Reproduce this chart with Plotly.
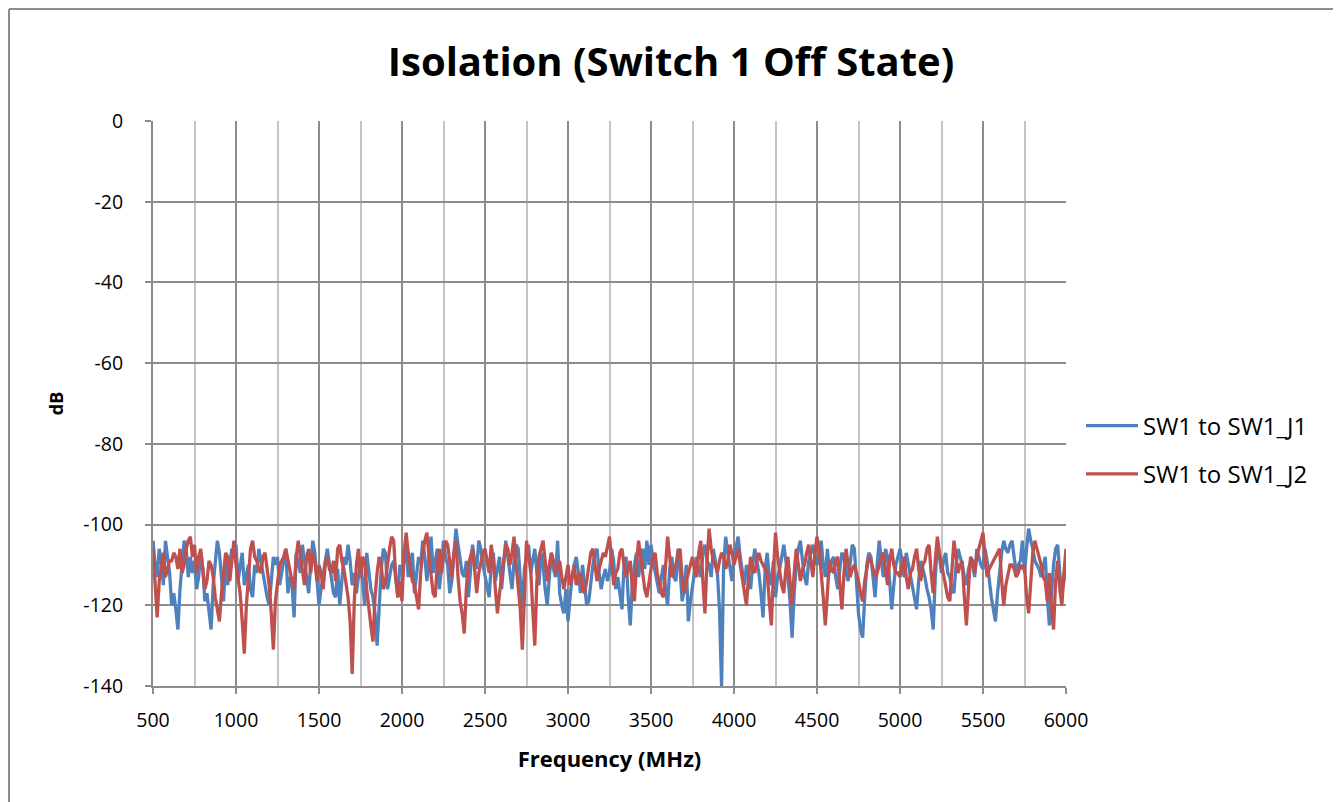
import plotly.graph_objects as go

# frequency grid: 500..6000 MHz every 12.5 MHz (441 points)
freq_mhz = [500 + 12.5 * k for k in range(441)]

# SW1 to SW1_J1 — values at the 25 MHz grid points (500, 525, ... 6000)
sw1_j1_grid = [
    -104, -113, -109, -104, -112, -117, -126, -111, -106, -108,
    -109, -113, -111, -117, -126, -110, -107, -119, -115, -106,
    -105, -111, -115, -110, -118, -112, -109, -116, -120, -108,
    -108, -112, -106, -113, -123, -110, -105, -114, -110, -107,
    -120, -112, -106, -113, -118, -120, -108, -105, -115, -117,
    -109, -120, -112, -118, -130, -111, -107, -113, -109, -118,
    -112, -106, -110, -117, -108, -104, -114, -103, -109, -116,
    -104, -110, -114, -101, -108, -113, -118, -105, -111, -106,
    -113, -118, -107, -111, -116, -104, -112, -109, -106, -121,
    -108, -112, -106, -115, -110, -120, -107, -113, -117, -122,
    -124, -113, -108, -117, -115, -119, -110, -106, -116, -111,
    -112, -109, -113, -121, -108, -125, -110, -113, -106, -104,
    -105, -112, -117, -110, -120, -108, -114, -111, -116, -124,
    -115, -108, -113, -105, -110, -106, -112, -140, -103, -110,
    -108, -103, -112, -110, -116, -106, -112, -123, -107, -115,
    -118, -111, -105, -113, -128, -110, -104, -113, -109, -105,
    -110, -104, -113, -112, -108, -116, -107, -112, -110, -106,
    -122, -128, -110, -108, -118, -104, -113, -108, -121, -110,
    -106, -113, -110, -115, -121, -109, -113, -118, -126, -105,
    -112, -107, -113, -117, -106, -110, -115, -109, -113, -108,
    -111, -109, -118, -124, -112, -104, -107, -104, -112, -109,
    -112, -101, -106, -110, -113, -108, -125, -110, -105, -117,
    -110,
]
# SW1 to SW1_J1 — values at the in-between points (512.5, 537.5, ... 5987.5)
sw1_j1_mid = [
    -110, -106, -115, -108, -120, -121, -116, -104, -113, -112,
    -116, -107, -119, -121, -115, -104, -112, -109, -110, -108,
    -114, -107, -112, -116, -110, -106, -113, -118, -113, -110,
    -115, -108, -117, -115, -107, -112, -109, -117, -104, -113,
    -116, -109, -110, -117, -111, -114, -110, -109, -112, -113,
    -114, -107, -116, -122, -119, -106, -116, -110, -114, -110,
    -109, -113, -107, -112, -110, -108, -108, -112, -106, -111,
    -108, -117, -107, -105, -112, -109, -112, -109, -104, -110,
    -116, -110, -114, -108, -110, -108, -116, -105, -114, -111,
    -105, -109, -112, -107, -116, -113, -111, -104, -120, -116,
    -118, -110, -112, -110, -120, -114, -107, -112, -113, -114,
    -106, -116, -117, -110, -118, -115, -107, -109, -111, -110,
    -109, -114, -113, -116, -111, -113, -106, -119, -110, -119,
    -111, -111, -107, -109, -113, -109, -121, -110, -107, -114,
    -105, -108, -115, -113, -110, -109, -117, -111, -113, -109,
    -113, -108, -109, -119, -117, -106, -109, -115, -107, -108,
    -107, -110, -106, -109, -113, -111, -108, -114, -105, -116,
    -126, -118, -107, -113, -110, -109, -106, -114, -115, -108,
    -109, -107, -112, -119, -114, -111, -116, -121, -113, -108,
    -109, -112, -116, -110, -108, -113, -111, -110, -106, -110,
    -106, -114, -121, -117, -107, -106, -105, -109, -110, -104,
    -106, -104, -109, -111, -110, -118, -117, -106, -112, -114,
]

# SW1 to SW1_J2 — values at the 25 MHz grid points
sw1_j2_grid = [
    -106, -123, -111, -113, -109, -107, -111, -112, -106, -103,
    -105, -108, -112, -114, -110, -118, -124, -112, -108, -109,
    -110, -117, -132, -113, -104, -109, -112, -107, -115, -131,
    -115, -109, -106, -111, -116, -104, -111, -108, -112, -109,
    -110, -116, -108, -112, -114, -105, -111, -118, -137, -110,
    -113, -109, -121, -129, -112, -110, -114, -106, -104, -118,
    -119, -102, -110, -115, -121, -107, -102, -113, -118, -106,
    -108, -105, -113, -104, -119, -127, -110, -106, -117, -109,
    -106, -112, -109, -122, -113, -105, -110, -103, -115, -131,
    -104, -111, -130, -108, -104, -114, -107, -112, -109, -116,
    -110, -113, -115, -112, -117, -111, -106, -114, -109, -108,
    -103, -115, -111, -106, -113, -109, -119, -104, -112, -118,
    -111, -107, -115, -118, -103, -113, -110, -106, -117, -112,
    -108, -113, -104, -122, -101, -109, -112, -107, -111, -105,
    -110, -106, -113, -120, -108, -112, -107, -110, -112, -125,
    -102, -112, -117, -108, -120, -106, -114, -110, -105, -113,
    -103, -111, -125, -109, -112, -108, -121, -106, -113, -110,
    -114, -119, -111, -109, -113, -110, -107, -115, -106, -112,
    -113, -108, -116, -111, -106, -114, -109, -105, -117, -103,
    -110, -115, -119, -104, -112, -109, -125, -108, -112, -106,
    -102, -113, -110, -108, -106, -120, -112, -110, -113, -110,
    -110, -122, -107, -106, -110, -114, -112, -126, -109, -120,
    -106,
]
# SW1 to SW1_J2 — values at the in-between points
sw1_j2_mid = [
    -116, -114, -107, -111, -109, -108, -106, -110, -104, -108,
    -112, -106, -116, -109, -113, -121, -117, -107, -114, -104,
    -114, -124, -120, -106, -108, -111, -108, -112, -122, -119,
    -110, -108, -109, -114, -108, -108, -115, -106, -107, -114,
    -112, -110, -111, -109, -106, -109, -114, -124, -119, -106,
    -108, -116, -125, -118, -108, -116, -109, -103, -113, -114,
    -107, -107, -114, -118, -112, -104, -108, -117, -110, -112,
    -104, -110, -107, -113, -122, -116, -108, -111, -112, -107,
    -109, -105, -116, -117, -108, -106, -107, -110, -121, -115,
    -108, -121, -114, -106, -109, -110, -109, -111, -113, -113,
    -115, -110, -113, -116, -114, -107, -110, -111, -107, -105,
    -109, -112, -107, -110, -111, -116, -110, -108, -116, -114,
    -108, -112, -117, -109, -108, -111, -107, -113, -114, -110,
    -111, -107, -114, -109, -106, -110, -109, -108, -109, -107,
    -108, -110, -117, -113, -111, -109, -109, -111, -119, -112,
    -108, -115, -111, -114, -112, -110, -111, -107, -109, -107,
    -106, -118, -116, -111, -109, -115, -112, -110, -111, -112,
    -117, -114, -108, -111, -112, -108, -111, -109, -110, -112,
    -110, -113, -112, -108, -111, -110, -106, -112, -109, -107,
    -113, -118, -110, -108, -110, -118, -116, -109, -108, -104,
    -108, -111, -109, -107, -114, -115, -110, -111, -112, -111,
    -118, -113, -104, -108, -113, -119, -121, -114, -116, -112,
]

series_names = ["SW1 to SW1_J1", "SW1 to SW1_J2"]
series_colors = ["#4F81BD", "#C0504D"]

x_ticks = list(range(500, 6001, 500))
y_ticks = list(range(-140, 1, 20))


def interleave(grid, mid):
    out = []
    for i, g in enumerate(grid):
        out.append(g)
        if i < len(mid):
            out.append(mid[i])
    return out


FONT = "Open Sans"
GRID = "#8C8C8C"
MINOR = "#C4C4C4"

fig = go.Figure()
for name, g, m, col in zip(series_names, [sw1_j1_grid, sw1_j2_grid], [sw1_j1_mid, sw1_j2_mid], series_colors):
    fig.add_trace(go.Scatter(
        x=freq_mhz, y=interleave(g, m), mode="lines", name=name, legendgroup=name,
        line=dict(color=col, width=3.3),
    ))

fig.update_layout(
    width=1341, height=802,
    margin=dict(l=145, r=283, t=113, b=124),
    paper_bgcolor="white", plot_bgcolor="white",
    font=dict(family=FONT, color="black", size=19),
    title=dict(text="<b>Isolation (Switch 1 Off State)</b>", x=(671 - 8) / 1341, xanchor="center",
               y=1 - 54 / 802, yanchor="middle", font=dict(size=40, family=FONT)),
    showlegend=True,
    legend=dict(x=(1081 - 153) / 913, y=(686 - 450) / 565, xanchor="left", yanchor="middle",
                font=dict(size=24, family=FONT), itemwidth=52, tracegroupgap=14,
                bgcolor="rgba(0,0,0,0)"),
    xaxis=dict(
        range=[500, 6000], tickvals=x_ticks, ticktext=[str(v) for v in x_ticks],
        showgrid=True, gridcolor=GRID, gridwidth=2,
        minor=dict(dtick=250, tick0=500, showgrid=True, gridcolor=MINOR, gridwidth=2, ticks=""),
        showline=True, linecolor=GRID, linewidth=2,
        ticks="outside", ticklen=6, tickcolor=GRID, tickwidth=2,
        tickfont=dict(size=19.5), zeroline=False, ticklabelstandoff=10,
        title=dict(text="<b>Frequency (MHz)</b>", font=dict(size=22), standoff=19),
    ),
    yaxis=dict(
        range=[-140, 0], tickvals=y_ticks, ticktext=[str(v) for v in y_ticks],
        showgrid=True, gridcolor=GRID, gridwidth=2,
        showline=True, linecolor=GRID, linewidth=2,
        ticks="outside", ticklen=6, tickcolor=GRID, tickwidth=2,
        tickfont=dict(size=19.5), zeroline=False, ticklabelstandoff=18,
        title=dict(text="<b>dB</b>", font=dict(size=18), standoff=15),
    ),
)


# outer chart border (as in the source spreadsheet chart); plot-relative paper coords
def px_x(p):
    return (p - 153) / 913


def px_y(p):
    return (686 - p) / 565


border = dict(color="#8C8C8C", width=2)
fig.add_shape(type="line", xref="paper", yref="paper", x0=px_x(9), x1=px_x(1338), y0=px_y(9), y1=px_y(9), line=border)
fig.add_shape(type="line", xref="paper", yref="paper", x0=px_x(9), x1=px_x(9), y0=px_y(9), y1=px_y(809), line=border)
fig.add_shape(type="line", xref="paper", yref="paper", x0=px_x(1338), x1=px_x(1338), y0=px_y(9), y1=px_y(809), line=border)

fig.write_html("out.html")
